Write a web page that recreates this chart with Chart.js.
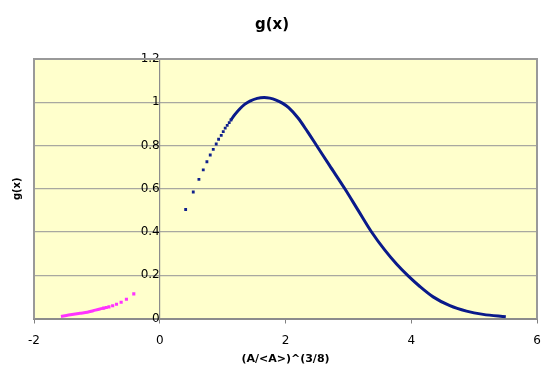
<!DOCTYPE html>
<html><head><meta charset="utf-8">
<script src="https://cdn.jsdelivr.net/npm/chart.js@4"></script>
<style>html,body{margin:0;padding:0;background:#fff}</style>
</head><body>
<canvas id="c" width="554" height="377" style="display:block;width:554px;height:377px"></canvas>
<script>
// Blue series: sparse markers at the start
const blueDotX = [0.412, 0.533, 0.623, 0.692, 0.750, 0.803, 0.851, 0.898, 0.936, 0.978, 1.010, 1.041, 1.073, 1.105, 1.132];
const blueDotY = [0.504, 0.585, 0.643, 0.687, 0.725, 0.756, 0.782, 0.807, 0.829, 0.847, 0.864, 0.880, 0.893, 0.906, 0.918];
// Blue series: dense part (markers merge into a solid curve)
const blueLineX = [1.132, 1.2, 1.275, 1.35, 1.434, 1.55, 1.66, 1.75, 1.85, 1.95, 2.05, 2.2, 2.35, 2.494, 2.7, 2.944, 3.156, 3.369, 3.58, 3.766, 3.951, 4.137, 4.348, 4.614, 4.879, 5.143, 5.504];
const blueLineY = [0.918, 0.945, 0.970, 0.990, 1.005, 1.018, 1.022, 1.019, 1.010, 0.996, 0.975, 0.927, 0.864, 0.800, 0.708, 0.600, 0.500, 0.400, 0.316, 0.252, 0.197, 0.148, 0.100, 0.059, 0.034, 0.019, 0.008];
// Magenta series: sparse markers
const pinkDotX = [-0.413, -0.530, -0.614, -0.688, -0.749, -0.808, -0.850, -0.890];
const pinkDotY = [0.114, 0.089, 0.075, 0.066, 0.059, 0.054, 0.051, 0.048];
// Magenta series: dense part
const pinkLineX = [-1.571, -1.45, -1.269, -1.15, -1.057, -0.95, -0.890];
const pinkLineY = [0.009, 0.016, 0.024, 0.029, 0.036, 0.044, 0.048];
// Tick labels
const xTicks = [-2, 0, 2, 4, 6];
const xTickLabels = ['-2', '0', '2', '4', '6'];
const yTicks = [0, 0.2, 0.4, 0.6, 0.8, 1, 1.2];
const yTickLabels = ['0', '0.2', '0.4', '0.6', '0.8', '1', '1.2'];

const pts = (xs, ys) => xs.map((x, i) => ({x: x, y: ys[i]}));
const FONT = 'DejaVu Sans, Verdana, sans-serif';

const plotBg = {
  id: 'plotBg',
  beforeDraw(chart) {
    const {ctx, chartArea: a} = chart;
    ctx.save();
    ctx.fillStyle = '#FFFFCC';
    ctx.fillRect(a.left, a.top, a.right - a.left, a.bottom - a.top);
    ctx.restore();
  },
  afterDraw(chart) {
    const {ctx, chartArea: a} = chart;
    ctx.save();
    ctx.strokeStyle = '#999999';
    ctx.lineWidth = 2;
    ctx.beginPath();
    ctx.moveTo(a.left, a.bottom);
    ctx.lineTo(a.left, a.top);
    ctx.lineTo(a.right, a.top);
    ctx.lineTo(a.right, a.bottom);
    ctx.stroke();
    ctx.restore();
  }
};

new Chart(document.getElementById('c'), {
  type: 'scatter',
  data: {
    datasets: [
      {data: pts(blueDotX, blueDotY), showLine: false, pointStyle: 'rect', pointRadius: 2,
       backgroundColor: '#10208c', borderColor: '#10208c', borderWidth: 0},
      {data: pts(blueLineX, blueLineY), showLine: true, pointRadius: 0, borderColor: '#0a1a8a',
       borderWidth: 3, cubicInterpolationMode: 'monotone', fill: false},
      {data: pts(pinkDotX, pinkDotY), showLine: false, pointStyle: 'rect', pointRadius: 2.2,
       backgroundColor: '#ff33ff', borderColor: '#ff33ff', borderWidth: 0},
      {data: pts(pinkLineX, pinkLineY), showLine: true, pointRadius: 0, borderColor: '#ff33ff',
       borderWidth: 3, cubicInterpolationMode: 'monotone', fill: false}
    ]
  },
  options: {
    responsive: false,
    animation: false,
    devicePixelRatio: 1,
    layout: {padding: {left: 7, right: 17, top: 0, bottom: 8}},
    plugins: {
      legend: {display: false},
      tooltip: {enabled: false},
      title: {display: true, text: 'g(x)', color: '#000',
        font: {family: FONT, size: 15, weight: 'bold'}, padding: {top: 16, bottom: 25}}
    },
    scales: {
      x: {
        type: 'linear', position: 'bottom', min: -2, max: 6,
        afterBuildTicks: s => { s.ticks = xTicks.map(v => ({value: v})); },
        ticks: {color: '#000', font: {family: FONT, size: 12}, padding: 10, maxRotation: 0,
          callback: (v, i) => xTickLabels[i]},
        grid: {display: true, drawOnChartArea: false, drawTicks: true, tickLength: 5, color: '#808080', lineWidth: 1},
        border: {display: true, color: '#8c8c8c', width: 2},
        title: {display: true, text: '(A/<A>)^(3/8)', color: '#000',
          font: {family: FONT, size: 11, weight: 'bold'}, padding: {top: -5.1, bottom: 3}}
      },
      y: {
        type: 'linear', position: {x: 0}, min: 0, max: 1.2,
        afterBuildTicks: s => { s.ticks = yTicks.map(v => ({value: v})); },
        ticks: {color: '#000', font: {family: FONT, size: 12}, padding: 4,
          callback: (v, i) => yTickLabels[i]},
        grid: {color: '#a8a8a0', lineWidth: 1.2, tickLength: 8},
        border: {display: true, color: '#8c8c8c', width: 1.2}
      },
      yt: {
        type: 'linear', position: 'left', min: 0, max: 1.2,
        ticks: {display: false}, grid: {display: false, drawTicks: false}, border: {display: false},
        title: {display: true, text: 'g(x)', color: '#000',
          font: {family: FONT, size: 10, weight: 'bold'}, padding: {top: 4, bottom: 11}}
      }
    }
  },
  plugins: [plotBg]
});
</script>
</body></html>
